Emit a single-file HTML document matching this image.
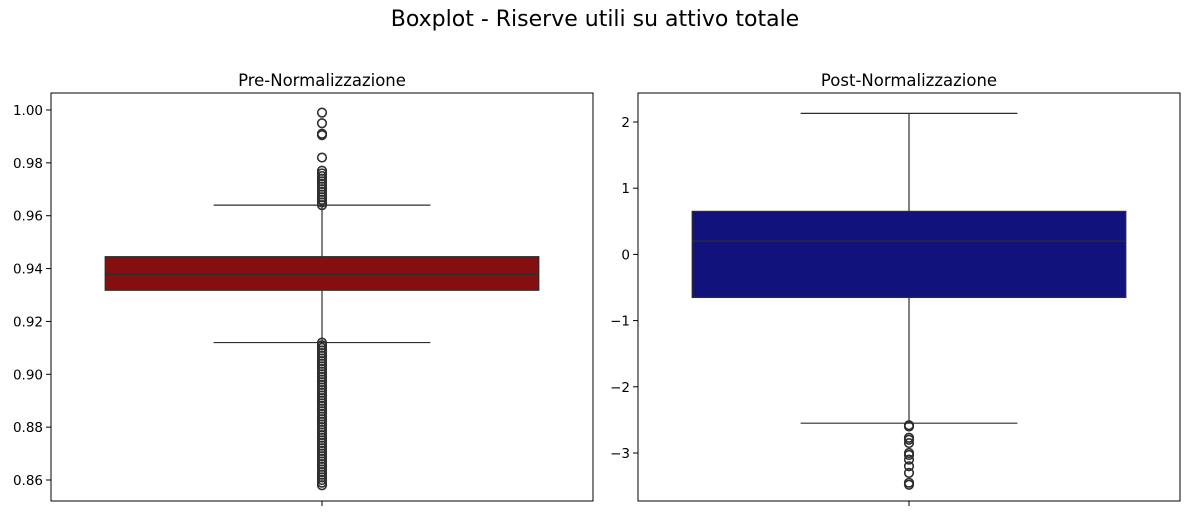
<!DOCTYPE html>
<html><head><meta charset="utf-8"><style>
body{margin:0;background:#fff;font-family:"DejaVu Sans","Liberation Sans",sans-serif}
svg text{font-family:"DejaVu Sans","Liberation Sans",sans-serif}
</style></head><body>
<svg id="c" width="1189" height="517" xmlns="http://www.w3.org/2000/svg">
<text x="595" y="26" font-size="22" text-anchor="middle" fill="#000">Boxplot - Riserve utili su attivo totale</text>
</svg>
<script>
const preStats=[0.9318,0.9378,0.9445,0.912,0.964]; // q1, median, q3, lowWhisker, highWhisker
const preOutliers=[0.964,0.965,0.966,0.967,0.968,0.969,0.970,0.971,0.972,0.973,0.974,0.975,0.976,0.977,0.982,0.9905,0.991,0.995,0.999,
0.912,0.911,0.910,0.909,0.908,0.907,0.906,0.905,0.904,0.903,0.902,0.901,0.900,0.899,0.898,0.897,0.896,0.895,0.894,0.893,0.892,0.891,0.890,0.889,0.888,0.887,0.886,0.885,0.884,0.883,0.882,0.881,0.880,0.879,0.878,0.877,0.876,0.875,0.874,0.873,0.872,0.871,0.870,0.869,0.868,0.867,0.866,0.865,0.864,0.863,0.862,0.861,0.860,0.859,0.858];
const preTicks=[0.86,0.88,0.90,0.92,0.94,0.96,0.98,1.00];
const postStats=[-0.65,0.2,0.65,-2.55,2.13];
const postOutliers=[-2.58,-2.6,-2.77,-2.8,-2.85,-3.0,-3.03,-3.1,-3.2,-3.3,-3.45,-3.48];
const postTicks=[-3,-2,-1,0,1,2];
const svg=document.getElementById('c');
const NS='http://www.w3.org/2000/svg';
function mk(t,a,p){const e=document.createElementNS(NS,t);for(const k in a)e.setAttribute(k,a[k]);(p||svg).appendChild(e);return e;}
function panel(name,x0,x1,yTop,yBot,vTop,vBot,stats,outl,ticks,fmt,color,title){
  const y=v=>yTop+(vTop-v)/(vTop-vBot)*(yBot-yTop);
  const g=mk('g',{});
  
  
  const t=mk('text',{x:(x0+x1)/2,y:86,'font-size':16.5,'text-anchor':'middle'},g);t.textContent=title;
  
  
  const cx=(x0+x1)/2,w=x1-x0,bw=w*0.8,ww=w*0.4;
  ticks.forEach(v=>{const yy=y(v);
    const l=mk('line',{x1:x0-5,x2:x0,y1:yy,y2:yy,stroke:'#000'},g);
    
    
    const tx=mk('text',{x:x0-8,y:yy+5,'font-size':13.5,'text-anchor':'end'},g);tx.textContent=fmt(v);
    
    });
  const xt=mk('line',{x1:cx,x2:cx,y1:501,y2:506,stroke:'#000'},g);
  
  
  const c='#2e2e2e';
  const wl=mk('line',{x1:cx,x2:cx,y1:y(stats[4]),y2:y(stats[2]),stroke:c,'stroke-width':1.2},g);
  
  
  const wl2=mk('line',{x1:cx,x2:cx,y1:y(stats[0]),y2:y(stats[3]),stroke:c,'stroke-width':1.2},g);
  
  
  [stats[3],stats[4]].forEach(v=>{const c2=mk('line',{x1:cx-ww/2,x2:cx+ww/2,y1:y(v),y2:y(v),stroke:c,'stroke-width':1.2},g);
    
    });
  const b=mk('rect',{x:cx-bw/2,y:y(stats[2]),width:bw,height:y(stats[0])-y(stats[2]),fill:color,stroke:c,'stroke-width':1.2},g);
  
  
  const m=mk('line',{x1:cx-bw/2,x2:cx+bw/2,y1:y(stats[1]),y2:y(stats[1]),stroke:c,'stroke-width':1.2},g);
  
  
  outl.forEach(v=>{const o=mk('circle',{cx:cx,cy:y(v),r:4.3,fill:'none',stroke:c,'stroke-width':1.6},g);
    
    });
  const f=mk('rect',{x:x0,y:93,width:w,height:408,fill:'none',stroke:'#000'},g);
  
  
}
panel('pre',51,593,110,480,1.00,0.86,preStats,preOutliers,preTicks,v=>v.toFixed(2),'#850e11','Pre-Normalizzazione');
panel('post',638,1180,122,453,2,-3,postStats,postOutliers,postTicks,v=>v<0?'\u2212'+(-v):String(v),'#12127c','Post-Normalizzazione');
</script>
</body></html>
